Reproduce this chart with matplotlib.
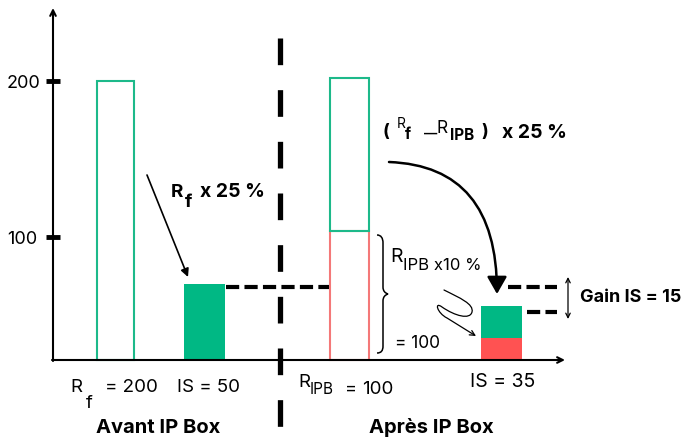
import matplotlib.pyplot as plt
from matplotlib.path import Path
from matplotlib.patches import FancyArrowPatch, PathPatch

plt.rcParams['font.family'] = ['Inter', 'DejaVu Sans']
plt.rcParams['lines.scale_dashes'] = False

# ─── DATA (schematic, bar tops) ──────────────────────────────────────────────
y_ticks    = [100, 200]
base_value = 21                       # value where the x axis sits
bar_x      = [115.5, 204.5, 349.5, 501.5]
bar_w      = [37, 41, 39, 41]
bar_top    = [200, 70, 202, 56]       # top of each bar
bar_red    = [0, 0, 104, 35]          # top of the red (IP Box) part, 0 = none
bar_filled = [False, True, False, True]
groups     = ["Avant IP Box", "Après IP Box"]
group_x    = [158, 431]

GREEN      = "#00B884"
GREEN_EDGE = "#1DB98A"
RED        = "#FF5252"
RED_EDGE   = "#F47878"

W, H = 683, 437
fig = plt.figure(figsize=(W / 100, H / 100), dpi=100)

# ─── bars on a value axis (x in pixel units) ─────────────────────────────────
ax = fig.add_axes([0, 0, 1, 1])
ax.set_xlim(0, W)
ax.set_ylim(100 - (H - 237) / 1.56, 100 + 237 / 1.56)
ax.axis('off')

for x, w, top, red, filled in zip(bar_x, bar_w, bar_top, bar_red, bar_filled):
    lo = base_value
    if red:
        if filled:
            ax.bar(x, red - lo, bottom=lo, width=w, color=RED, lw=0)
        else:
            ax.bar(x, red - lo, bottom=lo, width=w, fill=False,
                   edgecolor=RED_EDGE, lw=1.5)
        lo = red
    if filled:
        ax.bar(x, top - lo, bottom=lo, width=w, color=GREEN, lw=0)
    else:
        ax.bar(x, top - lo, bottom=lo, width=w, fill=False,
               edgecolor=GREEN_EDGE, lw=1.5)

for v in y_ticks:
    ax.plot([46, 60], [v, v], color='k', lw=3.5, solid_capstyle='butt')
    ax.text(7, v - 1.5, str(v), va='center', ha='left', fontsize=13)

# ─── overlay in pixel coords for the drawing bits ────────────────────────────
ov = fig.add_axes([0, 0, 1, 1], label='overlay')
ov.set_xlim(0, W)
ov.set_ylim(H, 0)
ov.axis('off')
ov.patch.set_alpha(0)

arr = dict(color='k', shrinkA=0, shrinkB=0)
# axes
ov.annotate('', xy=(53, 8), xytext=(53, 361),
            arrowprops=dict(arrowstyle='->', lw=1.5, mutation_scale=10, **arr))
ov.annotate('', xy=(565, 360), xytext=(52, 360),
            arrowprops=dict(arrowstyle='->', lw=1.5, mutation_scale=10, **arr))

# big separator
ov.plot([280, 280], [38, 450], color='k', lw=3.8, dashes=(19.2, 18),
        dash_capstyle='butt')
# level lines
ov.plot([226, 329], [287, 287], color='k', lw=3, dashes=(9.5, 3.8), dash_capstyle='butt')
ov.plot([508, 557], [287, 287], color='k', lw=3, dashes=(9.5, 3.8), dash_capstyle='butt')
ov.plot([527, 557], [312, 312], color='k', lw=3, dashes=(9.5, 3.8), dash_capstyle='butt')

# gain double arrow
ov.annotate('', xy=(568, 277), xytext=(568, 319),
            arrowprops=dict(arrowstyle='<->', lw=0.9, mutation_scale=8, **arr))

# Rf x 25 % arrow
ov.annotate('', xy=(188, 277), xytext=(147, 175),
            arrowprops=dict(arrowstyle='-|>', lw=1.2, mutation_scale=12, **arr))

# big curved arrow
big = Path([(389, 162), (497, 166), (497, 294)],
           [Path.MOVETO, Path.CURVE3, Path.CURVE3])
ov.add_patch(FancyArrowPatch(path=big, arrowstyle='-|>,head_length=0.7,head_width=0.4',
                             mutation_scale=15, lw=1.8, color='k',
                             transform=ov.transData))

# squiggle
sq = Path([(444, 290),
           (460, 298), (474, 304), (472, 312),
           (470, 320), (455, 316), (442, 307),
           (434, 301), (437, 313), (447, 318),
           (457, 324), (466, 330), (476, 336)],
          [Path.MOVETO] + [Path.CURVE4] * 12)
ov.add_patch(FancyArrowPatch(path=sq, arrowstyle='->', mutation_scale=9,
                             lw=0.9, color='k', transform=ov.transData))

# brace
br = Path([(377, 235),
           (381, 235), (383, 238), (383, 243),
           (383, 287),
           (383, 291), (385, 293), (388, 294),
           (385, 295), (383, 297), (383, 301),
           (383, 346),
           (383, 351), (381, 353), (377, 353)],
          [Path.MOVETO, Path.CURVE4, Path.CURVE4, Path.CURVE4, Path.LINETO,
           Path.CURVE4, Path.CURVE4, Path.CURVE4, Path.CURVE4, Path.CURVE4, Path.CURVE4,
           Path.LINETO, Path.CURVE4, Path.CURVE4, Path.CURVE4])
ov.add_patch(PathPatch(br, fill=False, lw=1.1, color='k'))

# ─── texts ───────────────────────────────────────────────────────────────────
def t(x, y, s, size, bold=False, ha='left'):
    ov.text(x, y, s, fontsize=size, fontweight='bold' if bold else 'normal',
            ha=ha, va='baseline', color='k')

# bottom labels
t(70, 392, "R", 13.5)
t(86, 408, "f", 13.5)
t(105, 392, "= 200", 13.5)
t(177, 392, "IS = 50", 13.5)
t(298, 387, "R", 13.5)
t(310, 394, "IPB", 11)
t(345, 394, "=", 13)
t(362, 394, "100", 13.5)
t(470, 387, "IS = 35", 14)
for gx, g in zip(group_x, groups):
    t(gx, 433, g, 14.5, bold=True, ha='center')

# Rf x 25 %
t(171, 197, "R", 13.5, bold=True)
t(185, 207, "f", 13.5, bold=True)
t(200, 197, "x 25 %", 14, bold=True)

# ( Rf - RIPB ) x 25 %
t(383, 137, "(", 13, bold=True)
t(397, 128, "R", 10)
t(405, 139, "f", 11, bold=True)
t(424, 137, "—", 9.5, bold=True)
t(437, 133, "R", 12.5)
t(450, 140, "IPB", 11, bold=True)
t(481, 137, ")", 13, bold=True)
t(502, 138, "x 25 %", 14, bold=True)

# RIPB x 10 %
t(390, 262, "R", 14)
t(403, 270, "IPB x10 %", 12)
t(395, 348, "= 100", 12.5)

t(580, 302, "Gain IS = 15", 13, bold=True)

fig.savefig("out.png", dpi=100)
